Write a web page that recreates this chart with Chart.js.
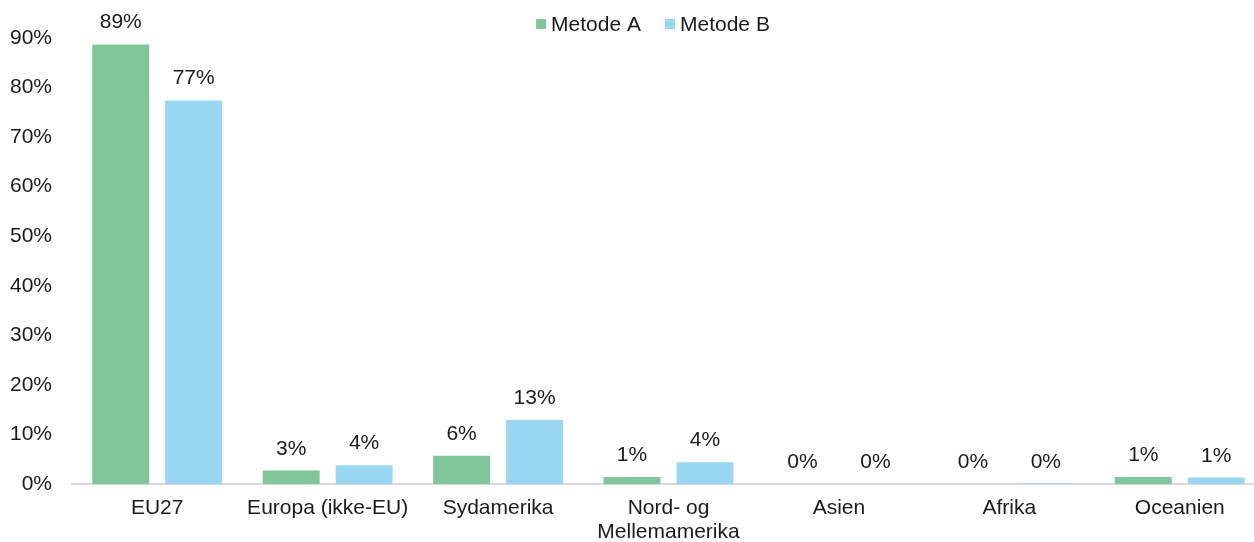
<!DOCTYPE html>
<html>
<head>
<meta charset="utf-8">
<script src="https://cdn.jsdelivr.net/npm/chart.js@4"></script>
<style>
  html, body { margin: 0; padding: 0; background: #fff; overflow: hidden; }
  #wrap { width: 1266px; height: 542px; }
</style>
</head>
<body>
<div id="wrap"><canvas id="chart" width="1266" height="542"></canvas></div>
<script>
/* Regional split, two methods (values in %) */
const categories = ['EU27', 'Europa (ikke-EU)', 'Sydamerika', ['Nord- og', 'Mellemamerika'], 'Asien', 'Afrika', 'Oceanien'];
const seriesNames = ['Metode A', 'Metode B'];
const metodeA = [88.7, 2.7, 5.7, 1.4, 0.0, 0.0, 1.4];
const metodeB = [77.4, 3.8, 12.9, 4.4, 0.0, 0.1, 1.3];
const yTicks = [0, 10, 20, 30, 40, 50, 60, 70, 80, 90];

const COLORS = ['#81c698', '#98d6f1'];
const FONT = '"Liberation Sans", Arial, sans-serif';
const TEXT = '#1a1a1a';
const SIZE = 21;

// Percent labels above every bar
const barLabels = {
  id: 'barLabels',
  afterDatasetsDraw(chart) {
    const ctx = chart.ctx;
    ctx.save();
    ctx.font = SIZE + 'px ' + FONT;
    ctx.fillStyle = TEXT;
    ctx.textAlign = 'center';
    ctx.textBaseline = 'alphabetic';
    chart.data.datasets.forEach((ds, i) => {
      chart.getDatasetMeta(i).data.forEach((bar, j) => {
        ctx.fillText(Math.round(ds.data[j]) + '%', bar.x, bar.y - 16);
      });
    });
    ctx.restore();
  },
};

// Small legend at the top, slightly right of centre like the original
const topLegend = {
  id: 'topLegend',
  afterDraw(chart) {
    const ctx = chart.ctx;
    ctx.save();
    ctx.font = SIZE + 'px ' + FONT;
    ctx.textBaseline = 'middle';
    const items = chart.data.datasets.map((ds) => ({ text: ds.label, color: ds.backgroundColor, w: ctx.measureText(ds.label).width }));
    const total = items.reduce((s, it) => s + 15 + it.w, 0) + 24 * (items.length - 1);
    let x = 653 - total / 2;
    items.forEach((it) => {
      ctx.fillStyle = it.color;
      ctx.fillRect(x, 19, 10, 10);
      ctx.fillStyle = TEXT;
      ctx.fillText(it.text, x + 15, 25);
      x += 15 + it.w + 24;
    });
    ctx.restore();
  },
};

new Chart(document.getElementById('chart'), {
  type: 'bar',
  data: {
    labels: categories,
    datasets: [
      { label: seriesNames[0], data: metodeA, backgroundColor: COLORS[0], barPercentage: 0.78, categoryPercentage: 0.856 },
      { label: seriesNames[1], data: metodeB, backgroundColor: COLORS[1], barPercentage: 0.78, categoryPercentage: 0.856 },
    ],
  },
  options: {
    responsive: false,
    animation: false,
    layout: { padding: { top: 38, right: 1, left: 0, bottom: 0 } },
    plugins: { legend: { display: false }, tooltip: { enabled: false } },
    scales: {
      x: {
        grid: { display: false, drawTicks: false },
        border: { display: true, color: '#d9d9d9', width: 2 },
        ticks: { color: TEXT, font: { family: FONT, size: SIZE, lineHeight: 1.15 }, padding: 12, maxRotation: 0, autoSkip: false },
        afterFit: (s) => { s.height = 58; },
      },
      y: {
        min: 0,
        max: 90,
        afterBuildTicks: (s) => { s.ticks = yTicks.map((v) => ({ value: v })); },
        grid: { display: false, drawTicks: false },
        border: { display: false },
        ticks: { color: TEXT, font: { family: FONT, size: SIZE }, padding: 20, callback: (v) => v + '%' },
        afterFit: (s) => { s.width = 72; },
      },
    },
  },
  plugins: [barLabels, topLegend],
});
</script>
</body>
</html>
